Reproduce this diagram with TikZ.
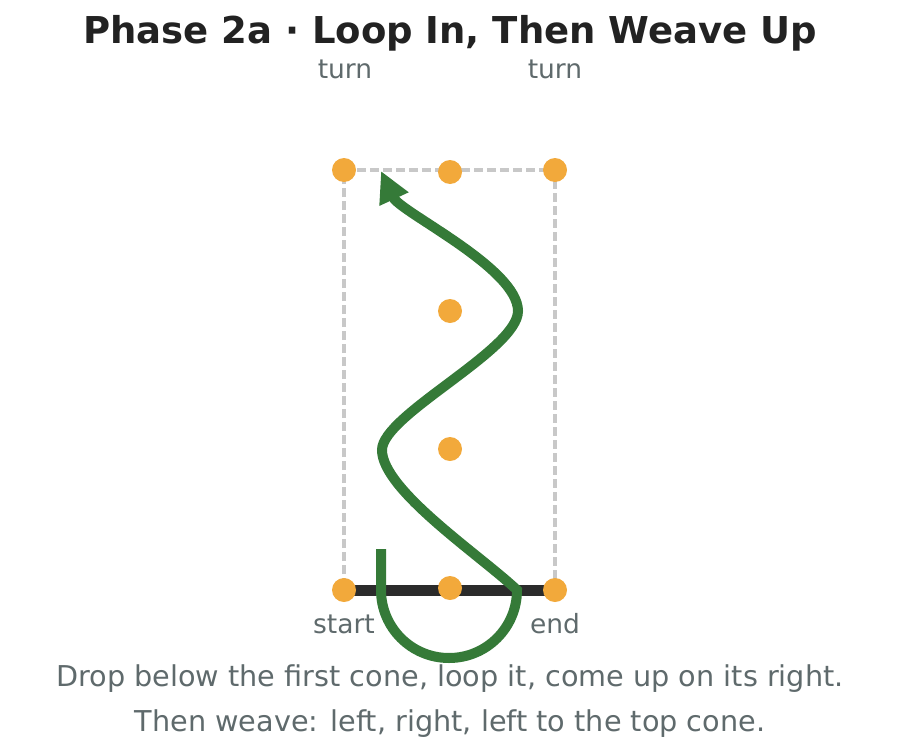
\documentclass[tikz,border=0pt]{standalone}
\usepackage{fontspec}
\setmainfont{DejaVu Sans}
\usetikzlibrary{arrows.meta,backgrounds}
\definecolor{conecol}{HTML}{F2A93B}
\definecolor{pathcol}{HTML}{357A38}
\definecolor{txtgray}{HTML}{5F6A6C}
\definecolor{guidegray}{HTML}{C8C8C8}
\definecolor{barcol}{HTML}{2B2B2B}
\definecolor{titlecol}{HTML}{222222}

\begin{document}
\begin{tikzpicture}[x=1pt,y=-1pt,
    cone/.style={circle,fill=conecol,minimum size=24pt,inner sep=0pt},
    lbl/.style={text=txtgray,font=\fontsize{26.5}{30}\selectfont,anchor=base,inner sep=0pt},
    note/.style={text=txtgray,font=\fontsize{28.7}{32}\selectfont,anchor=base,inner sep=0pt},
    guide/.style={draw=guidegray,line width=3.2pt,dash pattern=on 9pt off 4pt},
    route/.style={draw=pathcol,line width=10pt}]
    \useasboundingbox (0,0) rectangle (900,755);

    % title
    \node[anchor=base,inner sep=0pt,text=titlecol,font=\fontsize{37}{41}\selectfont\bfseries] (title) at (450,43) {Phase 2a · Loop In, Then Weave Up};

    % cones
    \node[cone] (tl) at (344,170) {};
    \node[cone] (tm) at (450,172) {};
    \node[cone] (tr) at (555,170) {};
    \node[cone] (m1) at (450,311) {};
    \node[cone] (m2) at (450,449) {};
    \node[cone] (bl) at (344,590) {};
    \node[cone] (bm) at (450,588) {};
    \node[cone] (br) at (555,590) {};

    % labels
    \node[lbl] (turnl) at (345,78) {turn};
    \node[lbl] (turnr) at (555,78) {turn};
    \node[lbl] (start) at (344,633) {start};
    \node[lbl] (end) at (555,633) {end};

    \begin{scope}[on background layer]
        \draw[guide] (tl.center) -- (tr.center) -- (br.center) -- (bl.center) -- cycle;
        \draw[barcol,line width=11pt] (bl.center) -- (br.center);
    \end{scope}

    % route
    \coordinate (drop) at (381,549);
    \coordinate (loopin) at (381,590);
    \coordinate (loopout) at (517,590);
    \coordinate (weavel) at (382,450);
    \coordinate (weaver) at (518,311);
    \coordinate (goal) at (381,171);
    \draw[route,-{Triangle[length=31pt,width=30pt]}] (drop) -- (loopin)
        .. controls (381,627.6) and (411.4,658) .. (449,658)
        .. controls (486.6,658) and (517,627.6) .. (loopout)
        .. controls (480,555) and (382,490) .. (weavel)
        .. controls (382,415) and (518,350) .. (weaver)
        .. controls (518,268) and (400,212) .. (goal);

    % notes
    \node[note] (note1) at (450,686) {Drop below the first cone, loop it, come up on its right.};
    \node[note] (note2) at (450,731.7) {Then weave: left, right, left to the top cone.};
\end{tikzpicture}
\end{document}
